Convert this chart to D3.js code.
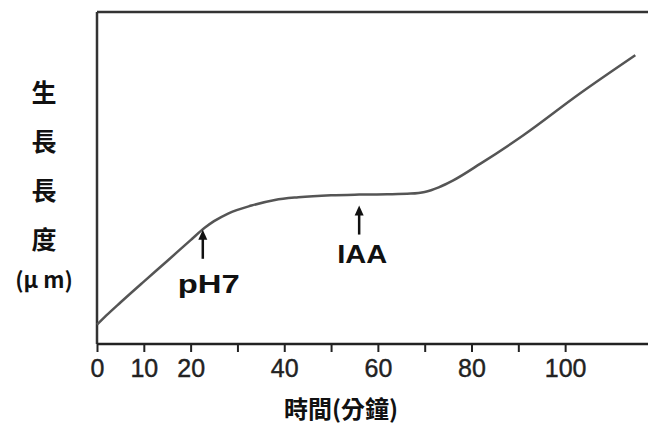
<!DOCTYPE html>
<html>
<head>
<meta charset="utf-8">
<script src="https://cdn.jsdelivr.net/npm/d3@7"></script>
<style>
  body { margin: 0; background: #fff; }
  svg { display: block; }
</style>
</head>
<body>
<div class="chart"></div>
<script>
// growth curve (time in minutes, length in arbitrary μm units)
var times   = [0, 2, 5, 10, 15, 20, 23, 25, 28, 33, 38, 43, 50, 56, 62, 67, 70, 73, 76, 82, 91, 103, 115];
var lengths = [5.8, 8.6, 12.5, 18.8, 25.0, 31.3, 35.0, 37.0, 39.3, 41.7, 43.4, 44.2, 44.8, 45.0, 45.1, 45.3, 45.8, 47.2, 49.2, 54.4, 62.8, 75.3, 87.0];

var xTicks = [0, 10, 20, 30, 40, 50, 60, 70, 80, 90, 100];
var xTickLabels = ["0", "10", "20", "", "40", "", "60", "", "80", "", "100"];

var arrowNames = ["pH7", "IAA"];
var arrowTimes = [22.6, 56];
var arrowTips  = [34.4, 41.7];

var yLabel = ["生", "長", "長", "度", "(μ m)"];
var xTitle = "時間(分鐘)";

const W = 648, H = 425;
const margin = ({ top: 12, right: 0, bottom: 82, left: 97 });

var svg = d3.select(".chart").append("svg")
    .attr("width", W)
    .attr("height", H);

var x = d3.scaleLinear().domain([0, 117.7]).range([margin.left, W - margin.right]);
var y = d3.scaleLinear().domain([0, 100]).range([H - margin.bottom + 1, margin.top]);

// frame: top line and left line
svg.append("line")
    .attr("x1", margin.left).attr("x2", W)
    .attr("y1", margin.top).attr("y2", margin.top)
    .attr("stroke", "#333").attr("stroke-width", 2.5);

svg.append("line")
    .attr("x1", margin.left).attr("x2", margin.left)
    .attr("y1", margin.top).attr("y2", y(0))
    .attr("stroke", "#333").attr("stroke-width", 2.5);

// bottom axis
var xAxis = d3.axisBottom(x)
    .tickValues(xTicks)
    .tickFormat((d, i) => xTickLabels[i])
    .tickSizeInner(8)
    .tickSizeOuter(0)
    .tickPadding(5);

var gx = svg.append("g")
    .attr("transform", `translate(0, ${y(0)})`)
    .call(xAxis);

gx.select(".domain").attr("stroke", "#222").attr("stroke-width", 2.5).attr("d", `M${margin.left},0H${W}`);
gx.selectAll(".tick line").attr("stroke", "#222").attr("stroke-width", 2);
gx.selectAll(".tick text")
    .attr("fill", "#222")
    .attr("font-family", "'Liberation Sans Narrow', 'Liberation Sans', Arial, sans-serif")
    .attr("font-size", 25)
    .attr("stroke", "#222")
    .attr("stroke-width", 0.4)
    .attr("dy", "0.8em");

// growth curve
var line = d3.line()
    .x((d, i) => x(times[i]))
    .y(d => y(d))
    .curve(d3.curveMonotoneX);

svg.append("path")
    .datum(lengths)
    .attr("d", line)
    .attr("fill", "none")
    .attr("stroke", "#555")
    .attr("stroke-width", 2.5);

// arrows
var arrows = svg.append("g").selectAll("g")
    .data(arrowNames)
    .join("g")
    .attr("transform", (d, i) => `translate(${x(arrowTimes[i])}, ${y(arrowTips[i])})`);

arrows.append("line")
    .attr("y1", 29)
    .attr("y2", 6)
    .attr("stroke", "#111")
    .attr("stroke-width", 2.5);

arrows.append("path")
    .attr("d", "M0,0 L4.5,10 L-4.5,10 Z")
    .attr("fill", "#111");

arrows.append("text")
    .attr("x", (d, i) => i === 0 ? 6 : 3)
    .attr("y", (d, i) => i === 0 ? 63 : 57)
    .attr("text-anchor", "middle")
    .attr("font-family", "'Liberation Sans', Arial, sans-serif")
    .attr("font-weight", "bold")
    .attr("font-size", 25)
    .attr("textLength", (d, i) => i === 0 ? 62 : 50)
    .attr("lengthAdjust", "spacingAndGlyphs")
    .attr("fill", "#111")
    .text(d => d);

// y label, stacked vertically
svg.append("g").selectAll("text")
    .data(yLabel)
    .join("text")
    .attr("x", 44)
    .attr("y", (d, i) => i < 4 ? 91 + i * 49 : 278)
    .attr("dominant-baseline", "central")
    .attr("text-anchor", "middle")
    .attr("font-family", "'Noto Sans CJK TC', sans-serif")
    .attr("font-weight", "bold")
    .attr("font-size", (d, i) => i < 4 ? 25 : 22)
    .attr("fill", "#111")
    .text(d => d);

// x title
svg.append("text")
    .attr("x", 341)
    .attr("y", 407)
    .attr("dominant-baseline", "central")
    .attr("text-anchor", "middle")
    .attr("font-family", "'Noto Sans CJK TC', sans-serif")
    .attr("font-weight", "bold")
    .attr("font-size", 24)
    .attr("fill", "#111")
    .text(xTitle);
</script>
</body>
</html>
